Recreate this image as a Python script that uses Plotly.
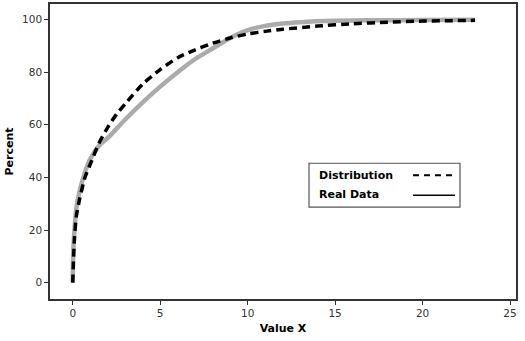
import plotly.graph_objects as go

# Data
dist_x = [0, 0.05, 0.1, 0.2, 0.4, 0.7, 1.0, 1.5, 2.0, 2.5, 3.0, 4.0, 5.0, 6.0, 7.0, 8.0, 9.0, 10.0, 11, 12, 14, 16, 18, 20, 23]
dist_y = [0, 10, 17, 25, 32, 40, 45, 53, 59, 64, 68, 75.5, 81, 85.5, 88.5, 91, 93, 94.5, 95.5, 96.3, 97.5, 98.4, 99, 99.4, 99.7]

real_x = [0, 0.03, 0.1, 0.2, 0.4, 0.7, 1.0, 1.5, 2.0, 3.0, 4.0, 5.0, 6.0, 7.0, 8.0, 9.0, 10.0, 11, 12, 13, 15, 17, 20, 23]
real_y = [0, 12, 20, 28, 35, 42, 47, 52, 55, 62, 68.5, 74.5, 80, 85, 89, 93, 96, 97.6, 98.5, 99, 99.5, 99.7, 99.8, 99.9]

x_ticks = [0, 5, 10, 15, 20, 25]
y_ticks = [0, 20, 40, 60, 80, 100]
legend_labels = ["Distribution", "Real Data"]

FONT = "DejaVu Sans"

fig = go.Figure()
fig.add_trace(go.Scatter(x=real_x, y=real_y, mode="lines", name="Real Data",
                         line=dict(color="#ababab", width=4.5, shape="spline", smoothing=0.6)))
fig.add_trace(go.Scatter(x=dist_x, y=dist_y, mode="lines", name="Distribution",
                         line=dict(color="black", width=3.5, dash="8px,5px", shape="spline", smoothing=0.6)))

W, H = 525, 341
L, R, T, B = 50, 9, 3.5, 42
pw, ph = W - L - R, H - T - B

def px_to_paper(x, y):
    return (x - L) / pw, 1 - (y - T) / ph

shapes = []
# legend box
x0, y0 = px_to_paper(309, 163)
x1, y1 = px_to_paper(460, 207)
shapes.append(dict(type="rect", xref="paper", yref="paper", x0=x0, y0=y1, x1=x1, y1=y0,
                   line=dict(color="#555555", width=1.2), fillcolor="white", layer="above"))
# dash sample
a0, ay = px_to_paper(413, 175)
a1, _ = px_to_paper(454, 175)
shapes.append(dict(type="line", xref="paper", yref="paper", x0=a0, y0=ay, x1=a1, y1=ay,
                   line=dict(color="black", width=2, dash="6px,5px"), layer="above"))
b0, by = px_to_paper(413, 195)
b1, _ = px_to_paper(455, 195)
shapes.append(dict(type="line", xref="paper", yref="paper", x0=b0, y0=by, x1=b1, y1=by,
                   line=dict(color="black", width=1.5), layer="above"))

annotations = []
for lab, ypx in zip(legend_labels, [175, 194]):
    ax_, ay_ = px_to_paper(317, ypx)
    annotations.append(dict(x=ax_, y=ay_, xref="paper", yref="paper", text="<b>%s</b>" % lab,
                            showarrow=False, xanchor="left", yanchor="middle",
                            font=dict(family=FONT, size=11, color="black")))

axis_common = dict(showgrid=False, zeroline=False, showline=True, linecolor="#333333", linewidth=1.5,
                   mirror=True, ticks="outside", ticklen=4, tickcolor="#333333",
                   tickfont=dict(family=FONT, size=10.5, color="#333333"))

fig.update_layout(
    width=W, height=H,
    margin=dict(l=L, r=R, t=T, b=B),
    paper_bgcolor="white", plot_bgcolor="white",
    showlegend=False,
    shapes=shapes, annotations=annotations,
    xaxis=dict(range=[-1.3, 25.34], tickvals=x_ticks, ticktext=[str(v) for v in x_ticks],
               title=dict(text="<b>Value X</b>", font=dict(family=FONT, size=11, color="black"), standoff=6),
               **axis_common),
    yaxis=dict(range=[-6.2, 105.9], tickvals=y_ticks, ticktext=[str(v) for v in y_ticks],
               title=dict(text="<b>Percent</b>", font=dict(family=FONT, size=11, color="black"), standoff=6),
               **axis_common),
)

fig.write_html("out.html")
